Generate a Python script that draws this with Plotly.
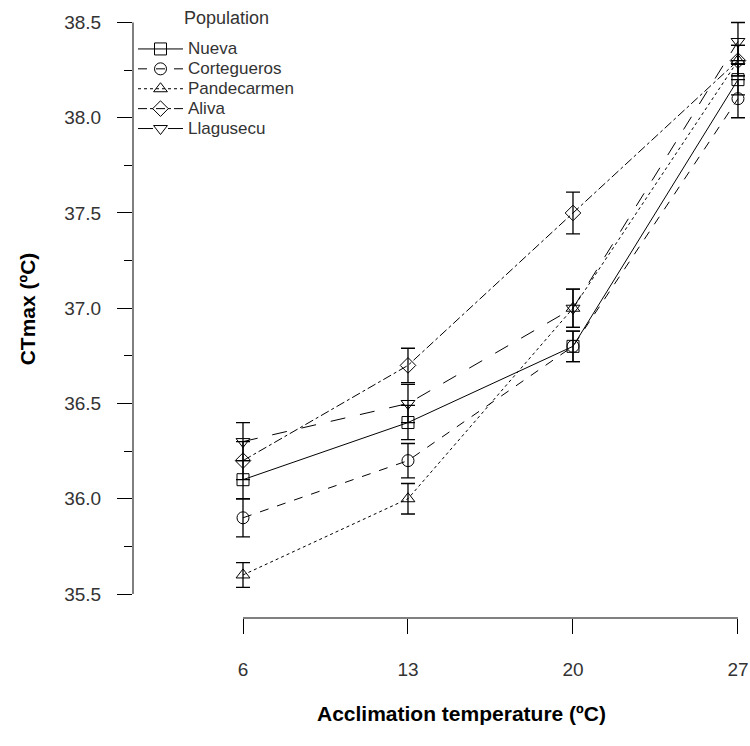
import plotly.graph_objects as go

temps = [6, 13, 20, 27]
populations = ["Nueva", "Cortegueros", "Pandecarmen", "Aliva", "Llagusecu"]

nueva = [36.1, 36.4, 36.8, 38.2]
cortegueros = [35.9, 36.2, 36.8, 38.1]
pandecarmen = [35.6, 36.0, 37.0, 38.3]
aliva = [36.2, 36.7, 37.5, 38.3]
llagusecu = [36.3, 36.5, 37.0, 38.4]

nueva_se = [0.1, 0.09, 0.08, 0.08]
cortegueros_se = [0.1, 0.09, 0.08, 0.1]
pandecarmen_se = [0.065, 0.08, 0.1, 0.08]
aliva_se = [0.1, 0.09, 0.11, 0.08]
llagusecu_se = [0.1, 0.1, 0.1, 0.1]

series = [nueva, cortegueros, pandecarmen, aliva, llagusecu]
errors = [nueva_se, cortegueros_se, pandecarmen_se, aliva_se, llagusecu_se]
symbols = ["square-open", "circle-open", "triangle-up-open", "diamond-open", "triangle-down-open"]
dashes = ["solid", "dash", "dot", "dashdot", "longdash"]

fig = go.Figure()
for name, vals, err, sym, dash in zip(populations, series, errors, symbols, dashes):
    fig.add_trace(go.Scatter(
        x=temps, y=vals, name=f"<span style='font-size:17px'>{name}</span>",
        mode="lines+markers",
        line=dict(color="black", width=1, dash=dash),
        marker=dict(symbol=sym, size=12, color="black", line=dict(width=1, color="black")),
        error_y=dict(type="data", array=err, visible=True, color="black", thickness=1.3, width=7),
    ))

font = "Liberation Sans, Arial, sans-serif"
fig.update_layout(
    width=750, height=746,
    margin=dict(l=133, r=0, t=0, b=128),
    paper_bgcolor="white", plot_bgcolor="white",
    font=dict(family=font, color="#333333"),
    showlegend=True,
    legend=dict(
        x=0.0, y=0.945, xanchor="left", yanchor="top",
        bgcolor="rgba(0,0,0,0)",
        font=dict(size=13, color="#333333", family=font),
        itemwidth=45, tracegroupgap=0,
    ),
    xaxis=dict(
        range=[1.333, 27.51], showgrid=False, zeroline=False, showline=False,
        tickmode="array", tickvals=temps, ticktext=[str(t) for t in temps],
        ticks="outside", ticklen=15, tickwidth=1, tickcolor="black",
        tickfont=dict(size=19, color="#333333"), ticklabelstandoff=19,
    ),
    yaxis=dict(
        range=[35.374, 38.618], showgrid=False, zeroline=False, showline=False,
        tickmode="array", tickvals=[35.5, 36.0, 36.5, 37.0, 37.5, 38.0, 38.5],
        ticktext=["35.5", "36.0", "36.5", "37.0", "37.5", "38.0", "38.5"],
        ticks="outside", ticklen=15, tickwidth=1, tickcolor="black",
        tickfont=dict(size=19, color="#333333"), ticklabelstandoff=12,
        minor=dict(tickvals=[35.75, 36.25, 36.75, 37.25, 37.75, 38.25], ticks="outside",
                   ticklen=8, tickwidth=1, tickcolor="black"),
        title=dict(text="<b>CTmax (ºC)</b>", font=dict(size=21, color="black"), standoff=22),
    ),
)

# legend title
fig.add_annotation(text="Population", xref="paper", yref="paper",
                   x=(226 - 133) / 617, y=(618 - 18) / 618, xanchor="center", yanchor="middle",
                   showarrow=False, font=dict(size=18, color="#333333", family=font))

# axis lines spanning the labelled range only (R-style)
fig.add_shape(type="line", xref="x", yref="paper", x0=temps[0], x1=temps[-1], y0=0, y1=0,
              line=dict(color="black", width=1))
fig.add_shape(type="line", xref="paper", yref="y", x0=0, x1=0, y0=35.5, y1=38.5,
              line=dict(color="black", width=1))

fig.add_annotation(text="<b>Acclimation temperature (ºC)</b>", xref="paper", yref="paper",
                   x=(461 - 133) / 617, y=-0.155, xanchor="center", yanchor="middle",
                   showarrow=False, font=dict(size=21, color="black", family=font))

fig.write_html("out.html")
